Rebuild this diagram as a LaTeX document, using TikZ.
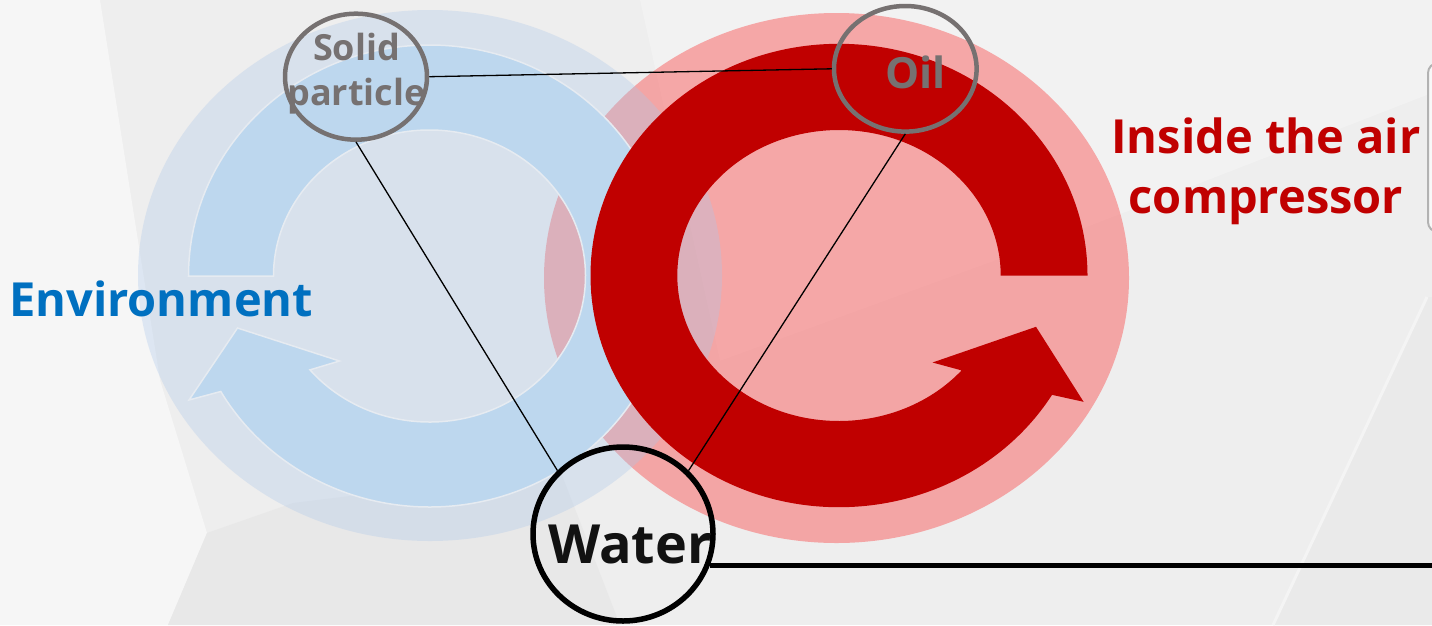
\documentclass[tikz,border=0pt]{standalone}
\usepackage{fontspec}
\setmainfont{Open Sans}
\usetikzlibrary{shapes.geometric,calc}
\definecolor{bgbase}{HTML}{EEEEEE}
\definecolor{bglight}{HTML}{F6F6F6}
\definecolor{bgdark}{HTML}{E8E8E8}
\definecolor{bgmid}{HTML}{F2F2F2}
\definecolor{ringgray}{HTML}{767171}
\definecolor{envblue}{HTML}{0070C0}
\definecolor{darkred}{HTML}{C00000}
\definecolor{ringblue}{HTML}{BDD7EE}
\definecolor{ringedge}{HTML}{E6EBF1}
\definecolor{bluedisc}{RGB}{173,200,234}
\definecolor{pinkdisc}{RGB}{247,117,117}
\tikzset{
  bubble/.style={ellipse, inner sep=0pt, draw=ringgray, line width=4.5pt},
  conn/.style={draw=black, line width=1.3pt},
  bigtext/.style={font=\fontsize{47}{60}\selectfont\bfseries, inner sep=0pt},
}
\begin{document}
\begin{tikzpicture}[x=1pt,y=1pt]
\useasboundingbox (0,0) rectangle (1432,-625);
\clip (0,0) rectangle (1432,-625);
% background
\fill[bgbase] (0,0) rectangle (1432,-625);
\fill[bgmid] (640,0) -- (1432,0) -- (1432,-93) -- (1087,-227) -- (720,-361) -- cycle;
\fill[bglight] (0,0) -- (100,0) -- (160,-380) -- (207,-533) -- (168,-625) -- (0,-625) -- cycle;
\fill[bgdark] (207,-533) -- (293,-503) -- (560,-470) -- (620,-625) -- (168,-625) -- cycle;
\fill[bgdark!60!bgbase] (1273,-625) -- (1427,-297) -- (1432,-297) -- (1432,-625) -- cycle;
\draw[white!35!bgbase, line width=3pt] (1273,-625) -- (1427,-297);
% big discs
\fill[pinkdisc, fill opacity=0.6] (836.5,-278) ellipse [x radius=292.5, y radius=265];
\fill[bluedisc, fill opacity=0.33] (430,-275.5) ellipse [x radius=292, y radius=265.5];
% blue circular arrow
\filldraw[fill=ringblue, draw=ringedge, line width=1.5pt]
  (429.5,-276) ++(180:241 and 231)
  arc[start angle=180, end angle=-150, x radius=241, y radius=231]
  -- (189,-400) -- (237.5,-328) -- (339.5,-361)
  -- ($(429.5,-276)+(-140:156 and 146)$)
  arc[start angle=-140, end angle=180, x radius=156, y radius=146]
  -- cycle;
% red circular arrow
\fill[darkred]
  (839,-275.5) ++(0:248.5 and 231.7)
  arc[start angle=0, end angle=329, x radius=248.5, y radius=231.7]
  -- (1083.6,-401.8) -- (1036,-326.8) -- (932.5,-362.5)
  -- ($(839,-275.5)+(319.3:161.7 and 145.5)$)
  arc[start angle=319.3, end angle=0, x radius=161.7, y radius=145.5]
  -- cycle;
% partial box at right edge
\draw[fill=white!60!bgbase, draw=gray!60, line width=2pt, rounded corners=10pt] (1428,-63) rectangle (1480,-232);
% bubbles
\node[bubble, minimum width=142pt, minimum height=126pt] (solid) at (356,-76.7) {};
\node[bubble, minimum width=142.6pt, minimum height=125.6pt] (oil) at (905.3,-68.8) {};
\node[bubble, draw=black, line width=5.5pt, minimum width=180pt, minimum height=174pt] (water) at (623,-534) {};
% connectors
\coordinate (rightend) at (1440,-564);
\draw[conn] (solid.east) -- (oil.west);
\draw[conn] (solid.south) -- (water.north west);
\draw[conn] (oil.south) -- (water.north east);
\draw[line width=5pt] (water.-20) -- (water.-20 -| rightend);
% texts
\node[font=\fontsize{36}{45}\selectfont\bfseries, text=ringgray, align=center, inner sep=0pt] (solidtxt) at (356.5,-74) {Solid\\particle};
\node[font=\fontsize{43}{50}\selectfont\bfseries, text=ringgray, inner sep=0pt, anchor=base] (oiltxt) at (915.5,-88.3) {Oil};
\node[font=\fontsize{54}{60}\selectfont\bfseries, text=black!93, inner sep=0pt, anchor=base] (watertxt) at (630,-563.3) {Water};
\node[bigtext, text=envblue, anchor=base west] (envtxt) at (9,-316) {Environment};
\node[bigtext, text=darkred, align=center] (insidetxt) at (1266,-171) {Inside the air\\compressor};
\end{tikzpicture}
\end{document}
